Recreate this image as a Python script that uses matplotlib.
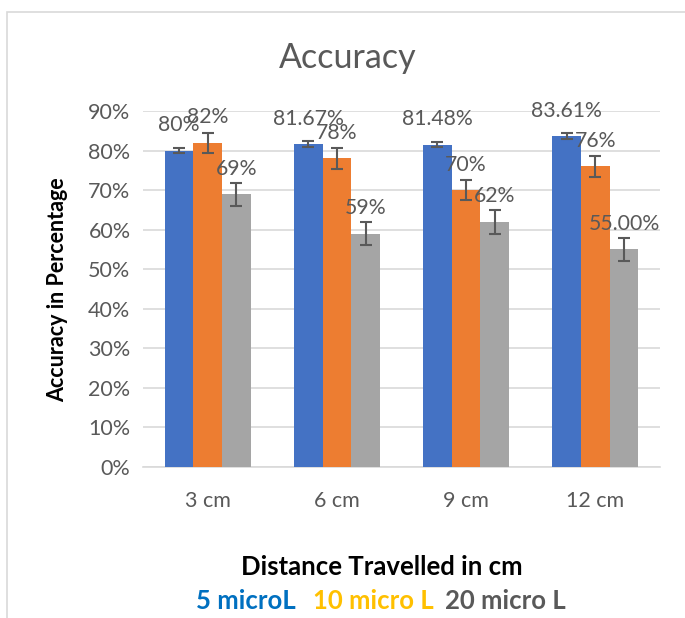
import matplotlib
matplotlib.use("Agg")
import matplotlib.pyplot as plt
import numpy as np
from matplotlib.patches import Rectangle

plt.rcParams['font.family'] = ['Lato', 'DejaVu Sans']

# data
categories = ["3 cm", "6 cm", "9 cm", "12 cm"]
series_names = ["5 microL", "10 micro L", "20 micro L"]
acc_5 = [80.0, 81.67, 81.48, 83.61]
acc_10 = [82.0, 78.0, 70.0, 76.0]
acc_20 = [69.0, 59.0, 62.0, 55.0]
err_5 = [0.7, 0.7, 0.7, 0.75]
err_10 = [2.5, 2.6, 2.6, 2.6]
err_20 = [2.9, 2.9, 3.0, 2.9]
labels_5 = ["80%", "81.67%", "81.48%", "83.61%"]
labels_10 = ["82%", "78%", "70%", "76%"]
labels_20 = ["69%", "59%", "62%", "55.00%"]
yticks = [0, 10, 20, 30, 40, 50, 60, 70, 80, 90]

bar_colors = ["#4472C4", "#ED7D31", "#A5A5A5"]
legend_colors = ["#0070C0", "#FFC000", "#595959"]
text_grey = "#595959"

fig = plt.figure(figsize=(6.85, 6.18), dpi=100)
ax = fig.add_axes([143 / 685, 1 - 467 / 618, 517 / 685, 356 / 618])

# chart border (light grey)
fig.patches.append(Rectangle((7 / 685, -0.05), 1.0, 1 - 12 / 618 + 0.05,
                             transform=fig.transFigure, fill=False,
                             edgecolor="#D9D9D9", linewidth=1.2))

x = np.arange(len(categories))
w = 2 / 3 / 3
all_vals = [acc_5, acc_10, acc_20]
all_errs = [err_5, err_10, err_20]
all_labels = [labels_5, labels_10, labels_20]

for i in range(3):
    pos = x + (i - 1) * w
    ax.bar(pos, all_vals[i], width=w, color=bar_colors[i], zorder=3)
    ax.errorbar(pos, all_vals[i], yerr=all_errs[i], fmt="none",
                ecolor=text_grey, elinewidth=1.5, capsize=4, capthick=1.5, zorder=4)
    for px, v, lab in zip(pos, all_vals[i], all_labels[i]):
        ax.annotate(lab, (px, v), xytext=(0, 11), textcoords="offset points",
                    ha="center", va="bottom", fontsize=15.3, color=text_grey, zorder=5)

ax.set_xlim(-0.5, 3.5)
ax.set_ylim(0, 90)
ax.set_yticks(yticks)
ax.set_yticklabels([f"{t}%" for t in yticks], fontsize=15.5, color=text_grey)
ax.set_xticks(x)
ax.set_xticklabels(categories, fontsize=15.5, color=text_grey)
ax.tick_params(axis="both", length=0)
ax.tick_params(axis="y", pad=9)
ax.tick_params(axis="x", pad=17)
ax.grid(axis="y", color="#D9D9D9", linewidth=1.2, zorder=0)
for s in ["top", "right", "left"]:
    ax.spines[s].set_visible(False)
ax.spines["bottom"].set_color("#D9D9D9")
ax.spines["bottom"].set_linewidth(1.2)
ax.spines["bottom"].set_zorder(0)

ax.set_ylabel("Accuracy in Percentage", fontsize=15.5, fontweight="bold",
              color="black")
ax.yaxis.set_label_coords((68 - 143) / 517, (467 - 290) / 356)

fig.text(348 / 685, 1 - 58 / 618, "Accuracy", ha="center", va="center",
         fontsize=24.5, color=text_grey)
fig.text(382 / 685, 1 - 567 / 618, "Distance Travelled in cm", ha="center",
         va="center", fontsize=18.5, fontweight="bold", color="black")

legend_x = [246, 373, 505]
for lx, name, c in zip(legend_x, series_names, legend_colors):
    fig.text(lx / 685, 1 - 601 / 618, name, ha="center", va="center",
             fontsize=18.5, fontweight="bold", color=c)

fig.savefig("out.png", dpi=100)
